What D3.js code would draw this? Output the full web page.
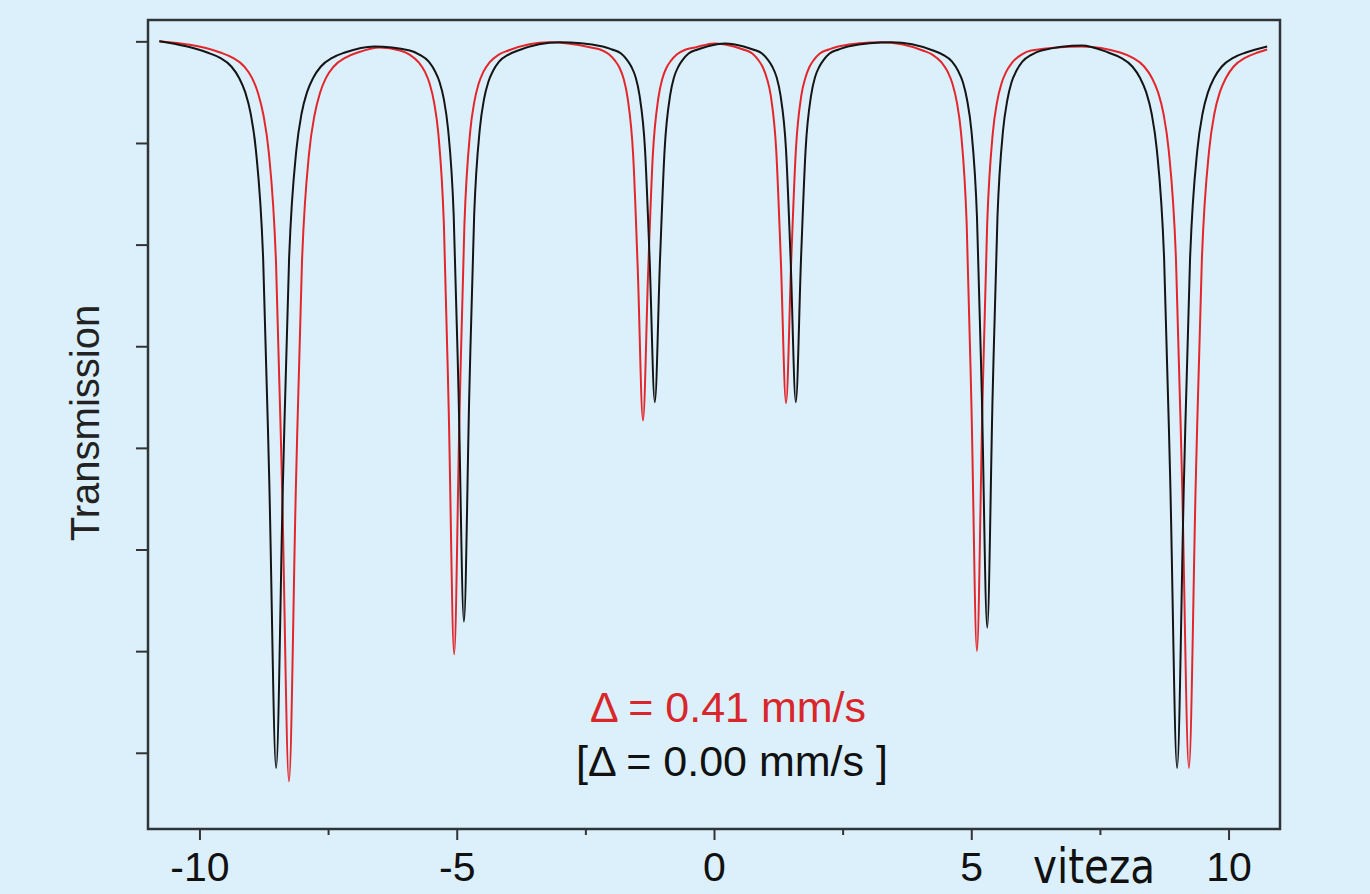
<!DOCTYPE html>
<html><head><meta charset="utf-8">
<script src="https://cdn.jsdelivr.net/npm/d3@7"></script>
<style>
html,body{margin:0;padding:0;background:#dcf0fb;}
svg{display:block;}
</style></head>
<body>
<svg id="chart" width="1370" height="894"></svg>
<script>
// ---- data ----
const velocityBlack = [-10.78,
 -9.847,-9.610,-9.376,-9.229,-9.111,-9.005,-8.903,-8.762,-8.645,-8.51,-8.375,-8.258,-8.117,-8.015,-7.909,-7.791,-7.644,-7.410,-7.173,
 -6.6,
 -5.913,-5.727,-5.543,-5.427,-5.334,-5.250,-5.169,-5.059,-4.966,-4.86,-4.754,-4.661,-4.551,-4.470,-4.386,-4.293,-4.177,-3.993,-3.807,
 -3.0,
 -2.163,-1.983,-1.806,-1.695,-1.606,-1.525,-1.448,-1.341,-1.252,-1.15,-1.048,-0.959,-0.852,-0.775,-0.694,-0.605,-0.494,-0.317,-0.137,
 0.22,
 0.577,0.757,0.934,1.045,1.134,1.215,1.292,1.399,1.488,1.59,1.692,1.781,1.888,1.965,2.046,2.135,2.246,2.423,2.603,
 3.45,
 4.257,4.443,4.627,4.743,4.836,4.920,5.001,5.111,5.204,5.31,5.416,5.509,5.619,5.700,5.784,5.877,5.993,6.177,6.363,
 7.15,
 7.663,7.900,8.134,8.281,8.399,8.505,8.607,8.748,8.865,9.0,9.135,9.252,9.393,9.495,9.601,9.719,9.866,10.100,10.337,
 10.75];
const transmissionBlack = [100.00,
 99.89,99.84,99.75,99.64,99.50,99.29,98.93,97.86,95.71,92.85,95.71,97.86,98.93,99.29,99.50,99.64,99.75,99.84,99.89,
 99.95,
 99.91,99.87,99.80,99.71,99.60,99.43,99.14,98.29,96.57,94.29,96.57,98.29,99.14,99.43,99.60,99.71,99.80,99.87,99.91,
 99.99,
 99.95,99.92,99.88,99.82,99.75,99.65,99.47,98.94,97.87,96.45,97.87,98.94,99.47,99.65,99.75,99.82,99.88,99.92,99.95,
 99.98,
 99.95,99.92,99.88,99.82,99.75,99.65,99.47,98.94,97.87,96.45,97.87,98.94,99.47,99.65,99.75,99.82,99.88,99.92,99.95,
 99.99,
 99.91,99.87,99.80,99.71,99.60,99.42,99.13,98.27,96.54,94.23,96.54,98.27,99.13,99.42,99.60,99.71,99.80,99.87,99.91,
 99.96,
 99.89,99.84,99.75,99.64,99.50,99.29,98.93,97.86,95.71,92.85,95.71,97.86,98.93,99.29,99.50,99.64,99.75,99.84,99.89,
 99.95];
const velocityRed = [-10.78,
 -9.597,-9.360,-9.126,-8.979,-8.861,-8.755,-8.653,-8.512,-8.395,-8.26,-8.125,-8.008,-7.867,-7.765,-7.659,-7.541,-7.394,-7.160,-6.923,
 -6.5,
 -6.103,-5.917,-5.733,-5.617,-5.524,-5.440,-5.359,-5.249,-5.156,-5.05,-4.944,-4.851,-4.741,-4.660,-4.576,-4.483,-4.367,-4.183,-3.997,
 -3.2,
 -2.393,-2.213,-2.036,-1.925,-1.836,-1.755,-1.678,-1.571,-1.482,-1.38,-1.278,-1.189,-1.082,-1.005,-0.924,-0.835,-0.724,-0.547,-0.367,
 0.01,
 0.387,0.567,0.744,0.855,0.944,1.025,1.102,1.209,1.298,1.40,1.502,1.591,1.698,1.775,1.856,1.945,2.056,2.233,2.413,
 3.25,
 4.057,4.243,4.427,4.543,4.636,4.720,4.801,4.911,5.004,5.11,5.216,5.309,5.419,5.500,5.584,5.677,5.793,5.977,6.163,
 7.15,
 7.893,8.130,8.364,8.511,8.629,8.735,8.837,8.978,9.095,9.23,9.365,9.482,9.623,9.725,9.831,9.949,10.096,10.330,10.567,
 10.75];
const transmissionRed = [100.00,
 99.89,99.84,99.75,99.64,99.49,99.27,98.91,97.82,95.63,92.72,95.63,97.82,98.91,99.27,99.49,99.64,99.75,99.84,99.89,
 99.94,
 99.91,99.87,99.79,99.70,99.58,99.40,99.10,98.19,96.38,93.97,96.38,98.19,99.10,99.40,99.58,99.70,99.79,99.87,99.91,
 99.99,
 99.94,99.92,99.87,99.81,99.74,99.63,99.44,98.88,97.76,96.27,97.76,98.88,99.44,99.63,99.74,99.81,99.87,99.92,99.94,
 99.98,
 99.95,99.92,99.88,99.82,99.75,99.64,99.47,98.93,97.86,96.44,97.86,98.93,99.47,99.64,99.75,99.82,99.88,99.92,99.95,
 99.99,
 99.91,99.87,99.79,99.70,99.58,99.40,99.10,98.20,96.40,94.00,96.40,98.20,99.10,99.40,99.58,99.70,99.79,99.87,99.91,
 99.95,
 99.89,99.84,99.75,99.64,99.50,99.29,98.93,97.86,95.71,92.85,95.71,97.86,98.93,99.29,99.50,99.64,99.75,99.84,99.89,
 99.92];
const xTickValues = [-10, -5, 0, 5, 10];
const xMinorTickValues = [-7.5, -2.5, 2.5, 7.5];
const yTickValues = [93, 94, 95, 96, 97, 98, 99, 100];
const xDomain = [-11, 11];
const yDomain = [92.25, 100.21];
const xLabel = "viteza";
const yLabel = "Transmission";
const annotationRed = "\u0394 = 0.41 mm/s";
const annotationBlack = "[\u0394 = 0.00 mm/s ]";

// ---- layout ----
const L = 148, R = 1280, T = 20, B = 829;
const svg = d3.select("#chart");
svg.append("rect").attr("width",1370).attr("height",894).attr("fill","#dcf0fb");

const x = d3.scaleLinear().domain(xDomain).range([L, R]);
const y = d3.scaleLinear().domain(yDomain).range([B, T]);

const font = "'Liberation Sans', Arial, Helvetica, sans-serif";

// x axis major
const gx = svg.append("g").attr("transform", `translate(0,${B})`)
  .call(d3.axisBottom(x).tickValues(xTickValues).tickSize(11).tickPadding(12)
        .tickFormat(d => String(d)));
gx.select(".domain").remove();
gx.selectAll("line").attr("stroke","#333").attr("stroke-width",2);
gx.selectAll("text").attr("font-family",font).attr("font-size",41).attr("fill","#111");

const gxm = svg.append("g").attr("transform", `translate(0,${B})`)
  .call(d3.axisBottom(x).tickValues(xMinorTickValues).tickSize(6).tickFormat(""));
gxm.select(".domain").remove();
gxm.selectAll("line").attr("stroke","#333").attr("stroke-width",2);

// y axis
const gy = svg.append("g").attr("transform", `translate(${L},0)`)
  .call(d3.axisLeft(y).tickValues(yTickValues).tickSize(12).tickFormat(""));
gy.select(".domain").remove();
gy.selectAll("line").attr("stroke","#333").attr("stroke-width",2);

// frame
svg.append("rect").attr("x",L).attr("y",T).attr("width",R-L).attr("height",B-T)
  .attr("fill","none").attr("stroke","#2e3438").attr("stroke-width",2.5);

// curves
const line = d3.line().x(d => x(d[0])).y(d => y(d[1])).curve(d3.curveMonotoneX);
const redData = velocityRed.map((v,i) => [v, transmissionRed[i]]);
const blackData = velocityBlack.map((v,i) => [v, transmissionBlack[i]]);
svg.append("path").datum(redData).attr("d", line).attr("fill","none")
  .attr("stroke","#e3262b").attr("stroke-width",2).attr("stroke-linejoin","round");
svg.append("path").datum(blackData).attr("d", line).attr("fill","none")
  .attr("stroke","#141414").attr("stroke-width",2).attr("stroke-linejoin","round");

// annotations
svg.append("text").attr("x",728).attr("y",722).attr("text-anchor","middle")
  .attr("font-family",font).attr("font-size",43).attr("fill","#d8262b").text(annotationRed);
svg.append("text").attr("x",732).attr("y",776).attr("text-anchor","middle")
  .attr("font-family",font).attr("font-size",43).attr("fill","#111").text(annotationBlack);

// axis labels
svg.append("text").attr("x",1094).attr("y",883).attr("text-anchor","middle")
  .attr("font-family","'DejaVu Sans Condensed','DejaVu Sans',sans-serif").attr("font-size",48)
  .attr("textLength",122).attr("lengthAdjust","spacingAndGlyphs")
  .attr("fill","#111").text(xLabel);
svg.append("text").attr("transform","translate(99,423) rotate(-90)").attr("text-anchor","middle")
  .attr("font-family",font).attr("font-size",40).attr("fill","#222").text(yLabel);
</script>
</body></html>
